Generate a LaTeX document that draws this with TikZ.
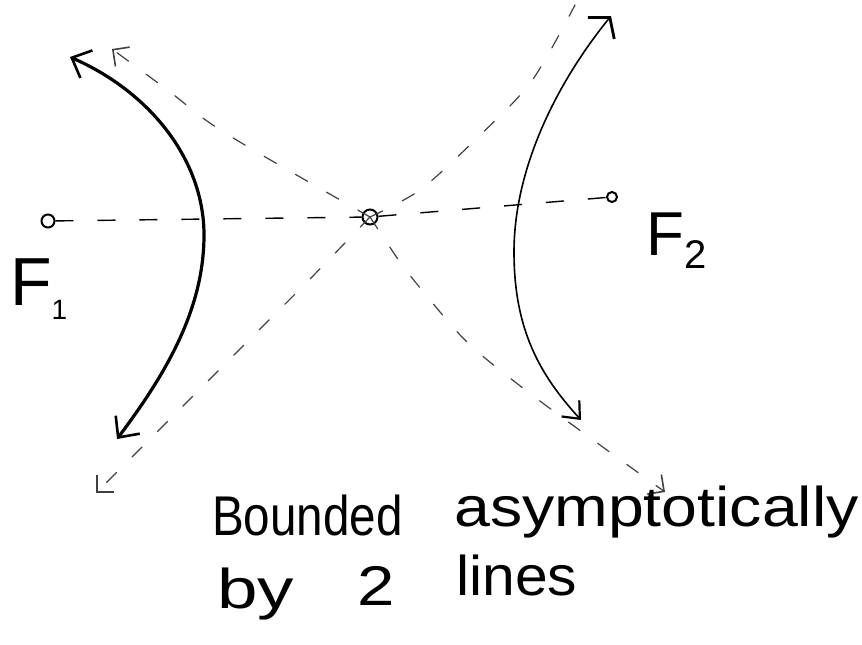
\documentclass[tikz,border=0pt]{standalone}
\usepackage{fontspec}
\setmainfont{Liberation Sans}
\usetikzlibrary{arrows.meta}
\begin{document}
\begin{tikzpicture}[x=1pt,y=-1pt,
  dot/.style={circle,draw,line width=2pt,inner sep=0pt},
  axisline/.style={line width=1.4pt,dash pattern=on 18pt off 24pt},
  asym/.style={line width=1.2pt,black!75,dash pattern=on 14pt off 22pt,line cap=round},
  barb/.tip={Straight Barb[length=16pt,width=30pt,line width=2.6pt]},
  sbarb/.tip={Straight Barb[length=12pt,width=24pt,line width=1.6pt]},
  branchL/.style={line width=3.2pt,line cap=round},
  branchR/.style={line width=1.6pt,line cap=round},
  hand/.style={inner sep=0pt,anchor=base west,font=\fontsize{56}{60}\selectfont}]
\useasboundingbox (0,0) rectangle (862,645);

% foci and centre
\node[dot,minimum size=13pt] (f1) at (48,221) {};
\node[dot,minimum size=15pt] (c)  at (370,217) {};
\node[dot,minimum size=10pt] (f2) at (612,197) {};

% labels
\node[inner sep=0pt,anchor=base west] (lf1) at (10,305)
  {\fontsize{68}{68}\selectfont F\raisebox{-14pt}{\fontsize{28}{28}\selectfont 1}};
\node[inner sep=0pt,anchor=base west] (lf2) at (646,255)
  {\fontsize{62}{62}\selectfont F\raisebox{-13pt}{\fontsize{40}{40}\selectfont 2}};

% transverse axis
\draw[axisline] (f1) -- (c);
\draw[axisline] (c) -- (f2);

% asymptote ends
\coordinate (a1s) at (112,49);
\coordinate (a1e) at (665,492);
\coordinate (a2s) at (96,493);
\coordinate (a2e) at (575,5);

\draw[asym,-{sbarb}] plot[smooth,tension=0.5] coordinates
  {(c.center) (255,151) (207,121) (170,92) (a1s)};
\draw[asym,-{sbarb}] plot[smooth,tension=0.5] coordinates
  {(c.center) (400,262) (430,300) (470,345) (528,392) (600,445) (a1e)};
\draw[asym,-{sbarb}] plot[smooth,tension=0.5] coordinates
  {(c.center) (310,279) (261,328) (215,374) (179,410) (a2s)};
\draw[asym] plot[smooth,tension=0.5] coordinates
  {(c.center) (420,190) (475,140) (531,82) (a2e)};

% left branch
\coordinate (l1) at (70,57);
\coordinate (lv) at (204,235);
\coordinate (l2) at (117,439);
\draw[branchL,{barb}-{barb}] (l1) .. controls (150,92) and (204,160) .. (lv)
  .. controls (204,310) and (165,375) .. (l2);

% right branch
\coordinate (r1) at (611,16);
\coordinate (rv) at (514,252);
\coordinate (r2) at (581,420);
\draw[branchR,{Straight Barb[length=14pt,width=34pt,line width=2.8pt]}-{Straight Barb[length=14pt,width=24pt,line width=2.2pt]}]
  (r1) .. controls (555,85) and (514,170) .. (rv)
  .. controls (514,330) and (540,375) .. (r2);

% text
\node[hand,xscale=0.85] (t1) at (212,535) {Bounded};
\node[hand,xscale=1.15] (t2) at (454,526) {asymptotically};
\node[hand,xscale=1.3] (t3) at (217,608) {by};
\node[hand,xscale=1.2] (t4) at (357,605) {2};
\node[hand,xscale=1.05] (t5) at (456,595) {lines};
\end{tikzpicture}
\end{document}
